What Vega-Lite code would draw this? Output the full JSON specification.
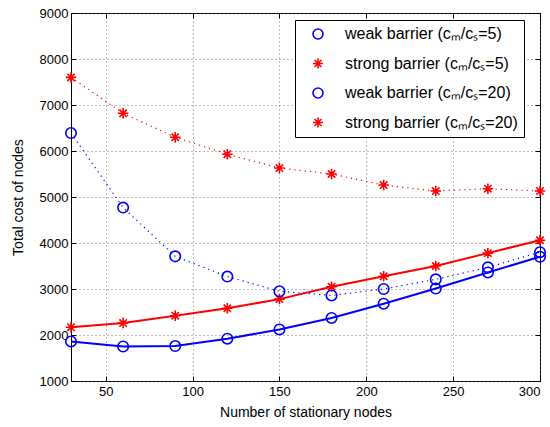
{
  "$schema": "https://vega.github.io/schema/vega-lite/v6.json",
  "width": 469,
  "height": 368,
  "autosize": {"type": "none"},
  "padding": {"left": 71, "top": 13, "right": 10, "bottom": 46},
  "background": "white",
  "config": {
    "font": "Liberation Sans",
    "view": {"stroke": "black", "strokeWidth": 1},
    "axis": {
      "domain": false,
      "labelFont": "Liberation Sans",
      "labelFontSize": 13,
      "labelColor": "black",
      "titleFont": "Liberation Sans",
      "titleFontSize": 14,
      "titleFontWeight": "normal",
      "titleColor": "black",
      "tickColor": "black",
      "tickSize": -5,
      "tickWidth": 1,
      "gridColor": "#555",
      "gridDash": [1, 3],
      "gridWidth": 0.8,
      "gridOpacity": 1
    }
  },
  "data": {
    "values": [
      {"nodes": 30, "cost": 1860, "ratio": 5, "series": "weak barrier (cₘ/cₛ=5)"},
      {"nodes": 60, "cost": 1750, "ratio": 5, "series": "weak barrier (cₘ/cₛ=5)"},
      {"nodes": 90, "cost": 1760, "ratio": 5, "series": "weak barrier (cₘ/cₛ=5)"},
      {"nodes": 120, "cost": 1920, "ratio": 5, "series": "weak barrier (cₘ/cₛ=5)"},
      {"nodes": 150, "cost": 2120, "ratio": 5, "series": "weak barrier (cₘ/cₛ=5)"},
      {"nodes": 180, "cost": 2370, "ratio": 5, "series": "weak barrier (cₘ/cₛ=5)"},
      {"nodes": 210, "cost": 2680, "ratio": 5, "series": "weak barrier (cₘ/cₛ=5)"},
      {"nodes": 240, "cost": 3010, "ratio": 5, "series": "weak barrier (cₘ/cₛ=5)"},
      {"nodes": 270, "cost": 3360, "ratio": 5, "series": "weak barrier (cₘ/cₛ=5)"},
      {"nodes": 300, "cost": 3700, "ratio": 5, "series": "weak barrier (cₘ/cₛ=5)"},
      {"nodes": 30, "cost": 2170, "ratio": 5, "series": "strong barrier (cₘ/cₛ=5)"},
      {"nodes": 60, "cost": 2260, "ratio": 5, "series": "strong barrier (cₘ/cₛ=5)"},
      {"nodes": 90, "cost": 2420, "ratio": 5, "series": "strong barrier (cₘ/cₛ=5)"},
      {"nodes": 120, "cost": 2580, "ratio": 5, "series": "strong barrier (cₘ/cₛ=5)"},
      {"nodes": 150, "cost": 2780, "ratio": 5, "series": "strong barrier (cₘ/cₛ=5)"},
      {"nodes": 180, "cost": 3050, "ratio": 5, "series": "strong barrier (cₘ/cₛ=5)"},
      {"nodes": 210, "cost": 3275, "ratio": 5, "series": "strong barrier (cₘ/cₛ=5)"},
      {"nodes": 240, "cost": 3500, "ratio": 5, "series": "strong barrier (cₘ/cₛ=5)"},
      {"nodes": 270, "cost": 3780, "ratio": 5, "series": "strong barrier (cₘ/cₛ=5)"},
      {"nodes": 300, "cost": 4060, "ratio": 5, "series": "strong barrier (cₘ/cₛ=5)"},
      {"nodes": 30, "cost": 6390, "ratio": 20, "series": "weak barrier (cₘ/cₛ=20)"},
      {"nodes": 60, "cost": 4770, "ratio": 20, "series": "weak barrier (cₘ/cₛ=20)"},
      {"nodes": 90, "cost": 3710, "ratio": 20, "series": "weak barrier (cₘ/cₛ=20)"},
      {"nodes": 120, "cost": 3270, "ratio": 20, "series": "weak barrier (cₘ/cₛ=20)"},
      {"nodes": 150, "cost": 2950, "ratio": 20, "series": "weak barrier (cₘ/cₛ=20)"},
      {"nodes": 180, "cost": 2860, "ratio": 20, "series": "weak barrier (cₘ/cₛ=20)"},
      {"nodes": 210, "cost": 3000, "ratio": 20, "series": "weak barrier (cₘ/cₛ=20)"},
      {"nodes": 240, "cost": 3210, "ratio": 20, "series": "weak barrier (cₘ/cₛ=20)"},
      {"nodes": 270, "cost": 3470, "ratio": 20, "series": "weak barrier (cₘ/cₛ=20)"},
      {"nodes": 300, "cost": 3800, "ratio": 20, "series": "weak barrier (cₘ/cₛ=20)"},
      {"nodes": 30, "cost": 7600, "ratio": 20, "series": "strong barrier (cₘ/cₛ=20)"},
      {"nodes": 60, "cost": 6820, "ratio": 20, "series": "strong barrier (cₘ/cₛ=20)"},
      {"nodes": 90, "cost": 6300, "ratio": 20, "series": "strong barrier (cₘ/cₛ=20)"},
      {"nodes": 120, "cost": 5930, "ratio": 20, "series": "strong barrier (cₘ/cₛ=20)"},
      {"nodes": 150, "cost": 5630, "ratio": 20, "series": "strong barrier (cₘ/cₛ=20)"},
      {"nodes": 180, "cost": 5500, "ratio": 20, "series": "strong barrier (cₘ/cₛ=20)"},
      {"nodes": 210, "cost": 5260, "ratio": 20, "series": "strong barrier (cₘ/cₛ=20)"},
      {"nodes": 240, "cost": 5130, "ratio": 20, "series": "strong barrier (cₘ/cₛ=20)"},
      {"nodes": 270, "cost": 5180, "ratio": 20, "series": "strong barrier (cₘ/cₛ=20)"},
      {"nodes": 300, "cost": 5130, "ratio": 20, "series": "strong barrier (cₘ/cₛ=20)"}
    ]
  },
  "resolve": {"axis": {"x": "independent", "y": "independent"}},
  "layer": [
    {
      "mark": {"type": "point", "filled": false, "size": 110, "strokeWidth": 1.6, "opacity": 1},
      "encoding": {
        "x": {"field": "nodes", "type": "quantitative", "scale": {"domain": [30, 300], "nice": false, "zero": false}, "axis": null},
        "y": {"field": "cost", "type": "quantitative", "scale": {"domain": [1000, 9000], "nice": false, "zero": false}, "axis": null},
        "color": {
          "field": "series", "type": "nominal",
          "scale": {"domain": ["weak barrier (cₘ/cₛ=5)", "strong barrier (cₘ/cₛ=5)", "weak barrier (cₘ/cₛ=20)", "strong barrier (cₘ/cₛ=20)"], "range": ["#0000ff", "#ff0000", "#0000ff", "#ff0000"]},
          "legend": {
            "title": null,
            "orient": "none",
            "legendX": 224,
            "legendY": 7,
            "strokeColor": "black",
            "fillColor": "white",
            "padding": 6,
            "labelFont": "Liberation Sans",
            "labelFontSize": 16,
            "labelColor": "black",
            "labelLimit": 300,
            "symbolSize": 100,
            "symbolOffset": 9,
            "labelOffset": 19,
            "rowPadding": 11.5,
            "symbolStrokeWidth": 1.6,
            "symbolType": "circle"
          }
        },
        "shape": {
          "field": "series", "type": "nominal",
          "scale": {"domain": ["weak barrier (cₘ/cₛ=5)", "strong barrier (cₘ/cₛ=5)", "weak barrier (cₘ/cₛ=20)", "strong barrier (cₘ/cₛ=20)"], "range": ["circle", "M-1,0H1M0,-1V1M-0.7,-0.7L0.7,0.7M-0.7,0.7L0.7,-0.7", "circle", "M-1,0H1M0,-1V1M-0.7,-0.7L0.7,0.7M-0.7,0.7L0.7,-0.7"]},
          "legend": null
        }
      }
    },
    {
      "transform": [{"filter": "datum.ratio == 5"}],
      "mark": {"type": "line", "strokeWidth": 2},
      "encoding": {
        "x": {
          "field": "nodes", "type": "quantitative",
          "axis": {"orient": "bottom", "values": [50, 100, 150, 200, 250, 300], "title": "Number of stationary nodes", "grid": true, "labelPadding": 9, "titlePadding": 7}
        },
        "y": {
          "field": "cost", "type": "quantitative",
          "axis": {"orient": "left", "format": "d", "values": [1000, 2000, 3000, 4000, 5000, 6000, 7000, 8000, 9000], "title": "Total cost of nodes", "grid": true, "labelPadding": 8, "titlePadding": 14}
        },
        "color": {"field": "series", "type": "nominal"}
      }
    },
    {
      "transform": [{"filter": "datum.ratio == 20"}],
      "mark": {"type": "line", "strokeWidth": 1.2, "strokeDash": [1.2, 4]},
      "encoding": {
        "x": {"field": "nodes", "type": "quantitative", "axis": {"orient": "top", "values": [50, 100, 150, 200, 250, 300], "labels": false, "title": null, "grid": false}},
        "y": {"field": "cost", "type": "quantitative", "axis": {"orient": "right", "values": [1000, 2000, 3000, 4000, 5000, 6000, 7000, 8000, 9000], "labels": false, "title": null, "grid": false}},
        "color": {"field": "series", "type": "nominal"}
      }
    }
  ]
}
